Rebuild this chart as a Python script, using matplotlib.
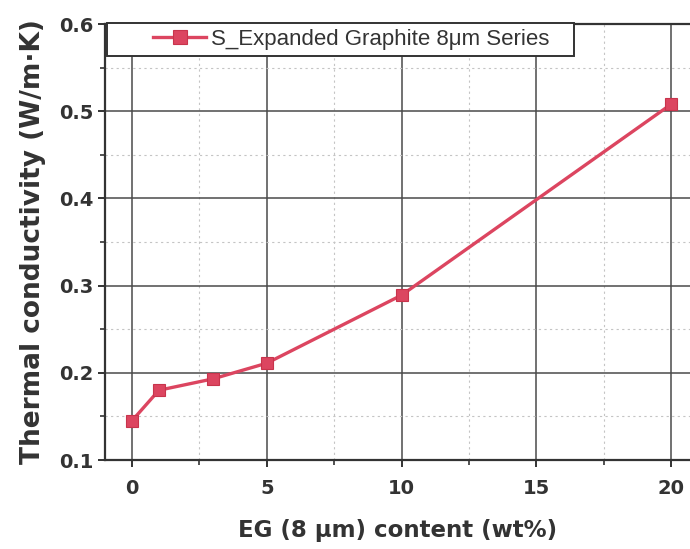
import matplotlib
matplotlib.use("Agg")
import matplotlib.pyplot as plt
from matplotlib.ticker import MultipleLocator, FormatStrFormatter
from matplotlib.patches import Rectangle

plt.rcParams['font.family'] = ['DejaVu Sans']

# EG content (wt%) and measured thermal conductivity (W/m·K)
eg_content = [0, 1, 3, 5, 10, 20]
conductivity = [0.145, 0.180, 0.193, 0.211, 0.289, 0.508]
series_label = "S_Expanded Graphite 8μm Series"

x_ticks = [0, 5, 10, 15, 20]
y_ticks = [0.1, 0.2, 0.3, 0.4, 0.5, 0.6]

line_color = "#dc4560"
text_color = "#333333"

W, H = 690, 549
fig = plt.figure(figsize=(W / 100, H / 100), dpi=100)
ax_l, ax_b, ax_t = 105, 460, 24
ax = fig.add_axes([ax_l / W, (H - ax_b) / H, 1 - ax_l / W, (ax_b - ax_t) / H])

ax.plot(eg_content, conductivity, color=line_color, lw=2.4,
        marker="s", ms=8.8, mfc=line_color, mec="#c8344c", mew=0.8,
        label=series_label, zorder=5)

ax.set_xlim(-1.0, 20.7)
ax.set_ylim(0.1, 0.6)
ax.set_xticks(x_ticks)
ax.set_yticks(y_ticks)
ax.xaxis.set_minor_locator(MultipleLocator(2.5))
ax.yaxis.set_minor_locator(MultipleLocator(0.05))
ax.yaxis.set_major_formatter(FormatStrFormatter("%.1f"))

ax.grid(which="major", color="#4a4a4a", lw=1.1, ls="-")
ax.grid(which="minor", color="#c4c4c4", lw=0.8, ls=(0, (2, 3)))
ax.set_axisbelow(True)

ax.tick_params(which="major", direction="out", length=5, width=1.4,
               colors="#333333", labelsize=14, labelcolor=text_color,
               top=False, right=False)
ax.tick_params(axis="x", which="major", pad=9)
ax.tick_params(axis="y", which="major", pad=3.5)
ax.tick_params(which="minor", direction="out", length=3.5, width=1.2,
               colors="#333333", top=False, right=False)
for lbl in ax.get_xticklabels() + ax.get_yticklabels():
    lbl.set_fontweight("bold")

for side in ("left", "bottom", "top"):
    ax.spines[side].set_color("#333333")
    ax.spines[side].set_linewidth(1.6)
ax.spines["right"].set_visible(False)

aw, ah = W - ax_l, ax_b - ax_t

ax.set_xlabel("EG (8 μm) content (wt%)", fontsize=16.5, fontweight="bold",
              color=text_color, labelpad=15)
ax.set_ylabel("Thermal conductivity (W/m·K)", fontsize=19, fontweight="bold",
              color=text_color)
ax.yaxis.set_label_coords((46 - ax_l) / aw, 0.5)

# legend frame drawn as a box spanning the top-left of the plot
box_x0 = (107 - ax_l) / aw
box_x1 = (574 - ax_l) / aw
box_y0 = 1 - (56 - ax_t) / ah
box_y1 = 1 - (23 - ax_t) / ah
ax.add_patch(Rectangle((box_x0, box_y0), box_x1 - box_x0, box_y1 - box_y0,
                       transform=ax.transAxes, facecolor="white",
                       edgecolor="#333333", lw=1.4, zorder=6, clip_on=False))

leg = ax.legend(loc="center left",
                bbox_to_anchor=((153 - ax_l) / aw, (box_y0 + box_y1) / 2),
                prop={"family": "Liberation Sans", "size": 16},
                frameon=False, borderpad=0, borderaxespad=0,
                handlelength=2.4, handletextpad=0.2, markerscale=1.15)
leg.set_zorder(7)
for t in leg.get_texts():
    t.set_color(text_color)

fig.savefig("out.png", dpi=100)
